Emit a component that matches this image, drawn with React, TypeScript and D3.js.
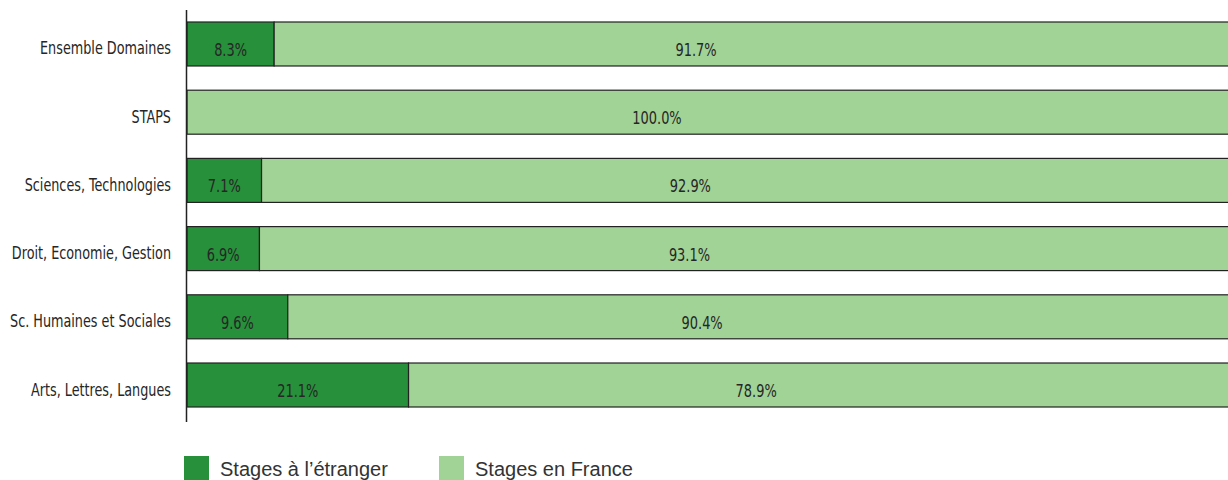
import React, { useEffect, useRef } from 'react';
import * as d3 from 'd3';

const categories = [
  'Ensemble Domaines',
  'STAPS',
  'Sciences, Technologies',
  'Droit, Economie, Gestion',
  'Sc. Humaines et Sociales',
  'Arts, Lettres, Langues',
];
const abroad = [8.3, 0, 7.1, 6.9, 9.6, 21.1];
const france = [91.7, 100.0, 92.9, 93.1, 90.4, 78.9];
const seriesNames = ['Stages à l\u2019étranger', 'Stages en France'];
const colors = ['#27903a', '#a1d296'];

const condensed = '"DejaVu Sans Condensed", "Liberation Sans Narrow", sans-serif';

const App = () => {
  const svgRef = useRef<SVGSVGElement>(null);

  useEffect(() => {
    document.body.style.margin = '0';
    const svg = d3.select(svgRef.current);
    svg.selectAll('*').remove();

    const x = d3.scaleLinear().domain([0, 100]).range([187, 1237]);
    // value labels of the light segment sit on a narrower layout
    const xLabel = d3.scaleLinear().domain([0, 100]).range([187, 1127]);
    const y = d3.scaleBand().domain(categories).range([22, 407]).paddingInner(0.355);

    const rows = categories.map((c, i) => ({ c, a: abroad[i], f: france[i] }));

    const g = svg.append('g');

    // squeezed text, like a condensed face
    const label = (px: number, py: number, txt: string, size: number, sx: number, anchor: string) =>
      g.append('text')
        .attr('transform', `translate(${px}, ${py}) scale(${sx}, 1)`)
        .attr('text-anchor', anchor)
        .style('font-family', condensed).style('font-size', size + 'px')
        .attr('fill', '#262626')
        .text(txt);

    rows.forEach(d => {
      const y0 = y(d.c)!;
      const h = y.bandwidth();
      if (d.a > 0) {
        g.append('rect')
          .attr('x', x(0)).attr('y', y0)
          .attr('width', x(d.a) - x(0)).attr('height', h)
          .attr('fill', colors[0]).attr('stroke', '#222').attr('stroke-width', 1.2);
      }
      g.append('rect')
        .attr('x', x(d.a)).attr('y', y0)
        .attr('width', x(d.a + d.f) - x(d.a)).attr('height', h)
        .attr('fill', colors[1]).attr('stroke', '#222').attr('stroke-width', 1.2);

      if (d.a > 0) label(x(d.a / 2), y0 + h / 2 + 12, d.a.toFixed(1) + '%', 18, 0.8, 'middle');
      label(xLabel(d.a + d.f / 2), y0 + h / 2 + 12, d.f.toFixed(1) + '%', 18, 0.8, 'middle');
      label(171, y0 + h / 2 + 10.5, d.c, 18, 0.79, 'end');
    });

    // vertical axis line
    g.append('line')
      .attr('x1', 186.5).attr('x2', 186.5).attr('y1', 10).attr('y2', 422)
      .attr('stroke', '#222').attr('stroke-width', 1.5);

    // legend
    const legendX = [184, 439];
    seriesNames.forEach((s, i) => {
      const lg = svg.append('g').attr('transform', `translate(${legendX[i]}, 456)`);
      lg.append('rect').attr('width', 25).attr('height', 25).attr('fill', colors[i]);
      lg.append('text')
        .attr('x', 36).attr('y', 20)
        .style('font-family', '"Liberation Sans", Arial, sans-serif').style('font-size', '20px')
        .attr('fill', '#333')
        .text(s);
    });
  }, []);

  return <svg ref={svgRef} width={1228} height={480} style={{ display: 'block' }}></svg>;
};

export default App;
